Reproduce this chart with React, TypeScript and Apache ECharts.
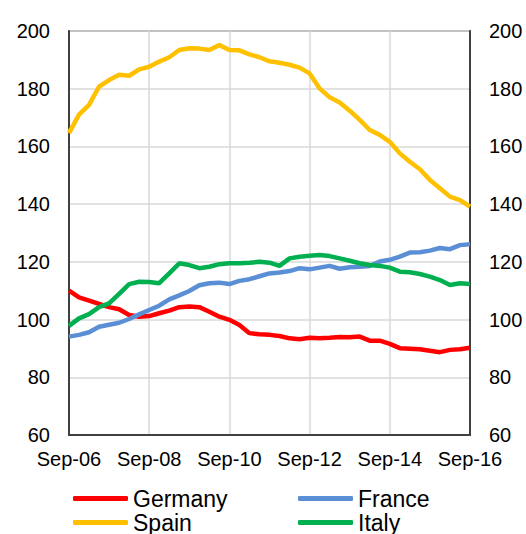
import React, { useEffect, useRef } from "react";
import * as echarts from "echarts";

const categories = [
  "Sep-06", "Dec-06", "Mar-07", "Jun-07", "Sep-07", "Dec-07", "Mar-08", "Jun-08",
  "Sep-08", "Dec-08", "Mar-09", "Jun-09", "Sep-09", "Dec-09", "Mar-10", "Jun-10",
  "Sep-10", "Dec-10", "Mar-11", "Jun-11", "Sep-11", "Dec-11", "Mar-12", "Jun-12",
  "Sep-12", "Dec-12", "Mar-13", "Jun-13", "Sep-13", "Dec-13", "Mar-14", "Jun-14",
  "Sep-14", "Dec-14", "Mar-15", "Jun-15", "Sep-15", "Dec-15", "Mar-16", "Jun-16",
  "Sep-16",
];

const germany = [
  110, 107.7, 106.6, 105.4, 104.3, 103.6, 101.6, 101, 101.2, 102.2, 103.1, 104.3,
  104.5, 104.3, 102.7, 101, 99.9, 98.1, 95.3, 94.9, 94.7, 94.3, 93.5, 93.2, 93.7,
  93.5, 93.7, 94, 93.9, 94.1, 92.7, 92.7, 91.6, 90.1, 89.9, 89.7, 89.2, 88.7, 89.5,
  89.7, 90.2,
];

const france = [
  94.1, 94.7, 95.6, 97.5, 98.2, 98.9, 100.2, 101.8, 103.3, 104.8, 107, 108.4,
  109.9, 111.9, 112.6, 112.8, 112.3, 113.4, 114, 115, 116, 116.3, 116.8, 117.8,
  117.4, 118, 118.6, 117.6, 118.1, 118.3, 118.6, 120.1, 120.7, 121.8, 123.2, 123.3,
  123.9, 124.8, 124.4, 125.8, 126.1,
];

const spain = [
  164.6, 171, 174.4, 180.7, 183, 184.8, 184.5, 186.7, 187.6, 189.4, 190.9, 193.4,
  194, 193.9, 193.4, 195.1, 193.4, 193.3, 191.9, 190.9, 189.5, 189, 188.3, 187.3,
  185.3, 180.1, 177, 175.2, 172.4, 169.2, 165.7, 164, 161.6, 157.6, 154.7, 152.1,
  148.4, 145.5, 142.6, 141.4, 139.1,
];

const italy = [
  97.8, 100.4, 101.9, 104.3, 105.6, 108.9, 112.3, 113.1, 113, 112.6, 116, 119.5,
  118.9, 117.8, 118.3, 119.2, 119.5, 119.5, 119.7, 120, 119.7, 118.6, 121.2, 121.8,
  122.1, 122.4, 122, 121.2, 120.4, 119.5, 118.9, 118.6, 118, 116.6, 116.4, 115.8,
  114.9, 113.7, 112, 112.6, 112.3,
];

const seriesNames = ["Germany", "France", "Spain", "Italy"];
const seriesColors = ["#FF0000", "#5B8FD5", "#FFC000", "#00B050"];

const FONT = "'Liberation Sans', Arial, sans-serif";

export default function App() {
  const ref = useRef<HTMLDivElement>(null);

  useEffect(() => {
    if (!ref.current) return;
    const chart = echarts.init(ref.current, undefined, { renderer: "svg" });
    const dataSets = [germany, france, spain, italy];

    const legendPos = [
      { left: 73, top: 487 },
      { left: 298, top: 487 },
      { left: 73, top: 511 },
      { left: 298, top: 511 },
    ];

    const yAxisBase = (pos: "left" | "right") => ({
      type: "value" as const,
      position: pos,
      min: 60,
      max: 200,
      interval: 20,
      axisLine: { show: true, lineStyle: { color: "#404040", width: 2 } },
      axisTick: { show: false },
      axisLabel: {
        color: "#000",
        fontSize: 20,
        fontFamily: FONT,
        margin: 19,
      },
      splitLine: {
        show: pos === "left",
        lineStyle: { color: "#D9D9D9", width: 1.5 },
      },
    });

    chart.setOption({
      animation: false,
      backgroundColor: "#fff",
      grid: {
        left: 69,
        right: 56,
        top: 31,
        bottom: 99,
        show: true,
        borderColor: "#808080",
        borderWidth: 2,
        backgroundColor: "transparent",
      },
      legend: seriesNames.map((name, i) => ({
        data: [name],
        left: legendPos[i].left,
        top: legendPos[i].top,
        padding: 0,
        itemWidth: 55,
        itemHeight: 5,
        itemGap: 0,
        icon: "roundRect",
        textStyle: {
          color: "#000",
          fontSize: 23,
          fontFamily: FONT,
          lineHeight: 22,
          padding: [0, 0, 0, 0],
        },
      })),
      xAxis: {
        type: "category",
        data: categories,
        boundaryGap: false,
        axisLine: { show: true, lineStyle: { color: "#404040", width: 2 } },
        axisTick: { show: false },
        axisLabel: {
          interval: 7,
          color: "#000",
          fontSize: 20,
          fontFamily: FONT,
          margin: 14,
        },
        splitLine: {
          show: true,
          interval: 7,
          lineStyle: { color: "#D9D9D9", width: 1.5 },
        },
      },
      yAxis: [yAxisBase("left"), yAxisBase("right")],
      series: seriesNames.map((name, i) => ({
        name,
        type: "line",
        data: dataSets[i],
        yAxisIndex: 0,
        showSymbol: false,
        symbol: "none",
        lineStyle: { color: seriesColors[i], width: 4.5 },
        itemStyle: { color: seriesColors[i] },
      })),
    });

    return () => chart.dispose();
  }, []);

  return <div ref={ref} style={{ width: 526, height: 534, position: "absolute", left: 0, top: 0 }} />;
}
